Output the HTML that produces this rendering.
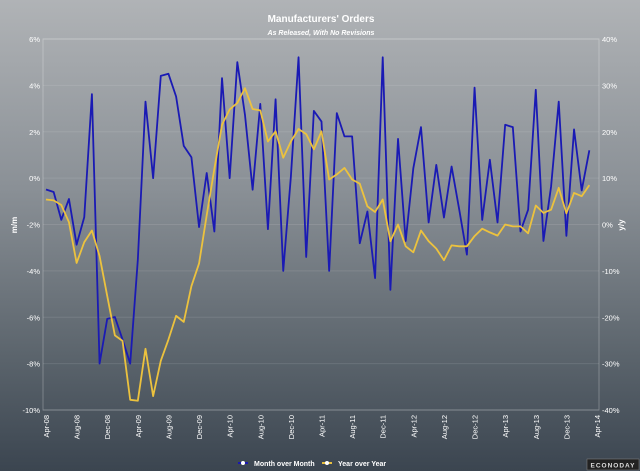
<!DOCTYPE html>
<html><head><meta charset="utf-8"><style>
html,body{margin:0;padding:0}
body{width:640px;height:471px;overflow:hidden;background:linear-gradient(#b0b3b6 0%,#8a9096 40%,#5c656d 75%,#3b4550 100%);font-family:"Liberation Sans",sans-serif}
svg{display:block}
</style></head><body>
<svg id="chart" width="640" height="471" xmlns="http://www.w3.org/2000/svg">
<text x="321" y="22" text-anchor="middle" fill="#fff" font-weight="bold" font-size="10">Manufacturers' Orders</text>
<text x="321" y="35" text-anchor="middle" fill="#fff" font-weight="bold" font-style="italic" font-size="7">As Released, With No Revisions</text>
<g id="grid"></g><g id="axes"></g><g id="series"></g>
<text transform="translate(17,225) rotate(-90)" text-anchor="middle" fill="#fff" font-size="8" font-weight="bold">m/m</text>
<text transform="translate(624,225) rotate(-90)" text-anchor="middle" fill="#fff" font-size="8" font-weight="bold">y/y</text>
<g>
<g><line x1="238" y1="463" x2="248" y2="463" stroke="#1a1ab0" stroke-width="2"/><circle cx="243" cy="463" r="2" fill="#fff"/><text x="254" y="466" fill="#fff" font-size="7" font-weight="bold">Month over Month</text></g>
<g><line x1="322" y1="463" x2="332" y2="463" stroke="#e8c040" stroke-width="2"/><circle cx="327" cy="463" r="2" fill="#fff"/><text x="338" y="466" fill="#fff" font-size="7" font-weight="bold">Year over Year</text></g>
</g>
<g><rect x="587" y="459" width="52" height="11" fill="#222" stroke="#888" stroke-width="0.5"/><text x="613" y="467.5" text-anchor="middle" fill="#ddd" font-size="6.5" font-weight="bold" letter-spacing="1">ECONODAY</text></g>
</svg>
<script>
const momValues=[-0.49,-0.6,-1.8,-0.9,-2.87,-1.68,3.62,-8.0,-6.07,-5.99,-6.96,-8.0,-3.52,3.3,0,4.41,4.5,3.52,1.39,0.9,-2.11,0.22,-2.3,4.31,0,5.0,2.73,-0.5,3.2,-2.2,3.4,-4.0,0.07,5.21,-3.4,2.9,2.44,-4.0,2.8,1.8,1.8,-2.81,-1.44,-4.31,5.21,-4.82,1.69,-2.71,0.43,2.2,-1.91,0.57,-1.7,0.5,-1.36,-3.3,3.9,-1.8,0.79,-1.91,2.3,2.2,-2.3,-1.36,3.81,-2.71,-0.36,3.3,-2.49,2.1,-0.53,1.2];
const yoyValues=[5.4,5.2,4.2,0.5,-8.3,-3.8,-1.3,-6.8,-15.4,-23.9,-25.1,-37.8,-38.0,-26.8,-37.0,-29.4,-24.8,-19.7,-21.0,-13.3,-8.4,2,12,21.5,24.8,26.2,29.4,24.9,24.6,17.9,20.1,14.4,17.9,20.6,19.5,16.2,20.1,9.7,10.8,12.2,9.7,8.8,3.9,2.7,5.4,-3.6,0,-4.7,-6.0,-1.3,-3.6,-5.2,-7.7,-4.5,-4.7,-4.7,-2.5,-0.9,-1.7,-2.4,0,-0.4,-0.4,-1.9,4.1,2.5,3.2,7.9,2.4,6.8,6.1,8.5];
const xTickLabels=["Apr-08","Aug-08","Dec-08","Apr-09","Aug-09","Dec-09","Apr-10","Aug-10","Dec-10","Apr-11","Aug-11","Dec-11","Apr-12","Aug-12","Dec-12","Apr-13","Aug-13","Dec-13","Apr-14"];
const leftTicks=[6,4,2,0,-2,-4,-6,-8,-10];
const rightTicks=[40,30,20,10,0,-10,-20,-30,-40];
const NS="http://www.w3.org/2000/svg";
const L=43,R=599,T=39,B=410;
const xs=i=>46+i*(551/72);
const yL=v=>T+(6-v)/16*(B-T);
const yR=v=>T+(40-v)/80*(B-T);
function mk(tag,attrs,parent){const e=document.createElementNS(NS,tag);for(const k in attrs)e.setAttribute(k,attrs[k]);parent.appendChild(e);return e;}
const grid=document.getElementById('grid'),axes=document.getElementById('axes'),ser=document.getElementById('series');
mk('rect',{x:L,y:T,width:R-L,height:B-T,fill:'none',stroke:'rgba(255,255,255,0.25)','stroke-width':1},grid);
leftTicks.forEach(v=>{
  const y=yL(v);
  const g=mk('line',{x1:L,x2:R,y1:y,y2:y,stroke:'rgba(255,255,255,0.1)','stroke-width':1},grid);
  
  
  const t=mk('text',{x:L-3,y:y+3,'text-anchor':'end',fill:'#fff','font-size':7.5},axes);
  t.textContent=v+'%';
  
  
});
rightTicks.forEach(v=>{
  const y=yR(v);
  const t=mk('text',{x:R+3,y:y+3,fill:'#fff','font-size':7.5},axes);
  t.textContent=v+'%';
  
  
});
xTickLabels.forEach((s,k)=>{
  const x=xs(k*4);
  const t=mk('text',{transform:`translate(${x+3},${B+5}) rotate(-90)`,'text-anchor':'end',fill:'#fff','font-size':7.5},axes);
  t.textContent=s;
  
  
});
const pm=mk('polyline',{points:momValues.map((v,i)=>xs(i)+','+yL(v)).join(' '),fill:'none',stroke:'#1a1ab4','stroke-width':1.8,'stroke-linejoin':'round'},ser);


const py=mk('polyline',{points:yoyValues.map((v,i)=>xs(i)+','+yR(v)).join(' '),fill:'none',stroke:'#ecc23e','stroke-width':1.8,'stroke-linejoin':'round'},ser);


</script>
</body></html>
